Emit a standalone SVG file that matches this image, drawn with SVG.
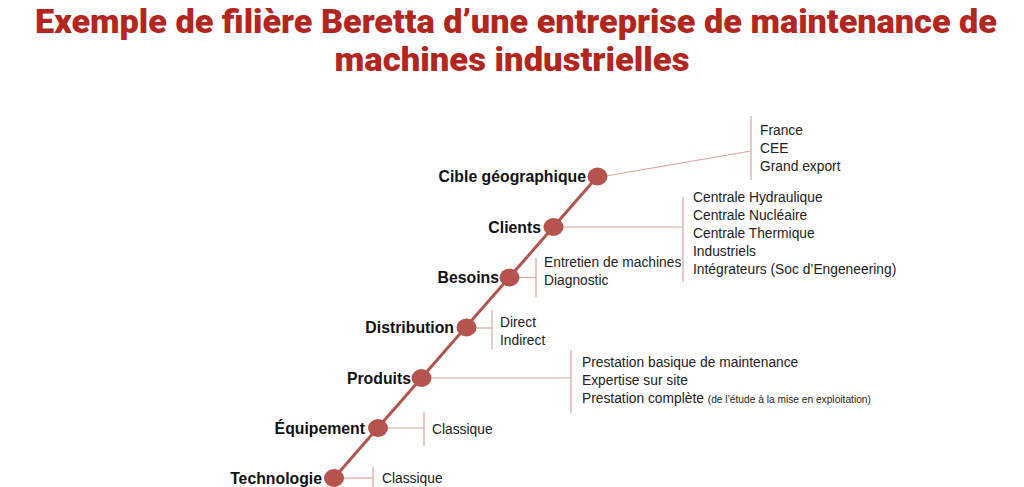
<svg xmlns="http://www.w3.org/2000/svg" width="1024" height="487" viewBox="0 0 1024 487">
<style>
.title{font-family:Roboto,"Liberation Sans",sans-serif;font-weight:900;font-size:34px;fill:#B3261E;text-anchor:middle}
.lbl{font-family:"Liberation Sans",Arial,sans-serif;font-weight:bold;font-size:15.8px;fill:#111;text-anchor:end}
.item{font-family:"Liberation Sans",Arial,sans-serif;font-size:13.8px;fill:#222}
.small{font-size:10.2px}
.dot{fill:#B5544E}
.con{stroke:#DBA3A1;stroke-width:1.2;fill:none}
.spine{stroke:#B5544E;stroke-width:3;fill:none}
</style>
<rect width="1024" height="487" fill="#fff"/>
<g id="title">
<text class="title" x="516" y="33" textLength="962" lengthAdjust="spacingAndGlyphs">Exemple de filière Beretta d’une entreprise de maintenance de</text>
<text class="title" x="512" y="71" textLength="355" lengthAdjust="spacingAndGlyphs">machines industrielles</text>
</g>
<g id="connectors">
<line class="spine" x1="334" y1="478" x2="597" y2="177"/>
<polyline class="con" points="606,176 751,151"/>
<line class="con" x1="751" y1="116" x2="751" y2="180"/>
<line class="con" x1="560" y1="227" x2="683" y2="227"/>
<line class="con" x1="683" y1="197" x2="683" y2="282"/>
<line class="con" x1="516" y1="277.5" x2="536" y2="277.5"/>
<line class="con" x1="536" y1="258" x2="536" y2="297"/>
<line class="con" x1="473" y1="328" x2="492" y2="328"/>
<line class="con" x1="492" y1="310" x2="492" y2="349"/>
<line class="con" x1="428" y1="378" x2="571" y2="378"/>
<line class="con" x1="571" y1="350" x2="571" y2="413"/>
<line class="con" x1="385" y1="428" x2="424" y2="428"/>
<line class="con" x1="424" y1="412" x2="424" y2="446"/>
<line class="con" x1="341" y1="478" x2="373" y2="478"/>
<line class="con" x1="373" y1="467" x2="373" y2="490"/>
</g>
<g id="n-cible">
<ellipse class="dot" cx="597.5" cy="176.5" rx="10" ry="9"/>
<text class="lbl" x="586" y="182">Cible géographique</text>
<text class="item" x="760" y="135">France</text>
<text class="item" x="760" y="153">CEE</text>
<text class="item" x="760" y="171">Grand export</text>
</g>
<g id="n-clients">
<ellipse class="dot" cx="553.5" cy="227" rx="10" ry="9"/>
<text class="lbl" x="541" y="233">Clients</text>
<text class="item" x="693" y="202">Centrale Hydraulique</text>
<text class="item" x="693" y="220">Centrale Nucléaire</text>
<text class="item" x="693" y="238">Centrale Thermique</text>
<text class="item" x="693" y="256">Industriels</text>
<text class="item" x="693" y="274">Intégrateurs (Soc d’Engeneering)</text>
</g>
<g id="n-besoins">
<ellipse class="dot" cx="509.5" cy="277.5" rx="10" ry="9"/>
<text class="lbl" x="499" y="283">Besoins</text>
<text class="item" x="544" y="267">Entretien de machines</text>
<text class="item" x="544" y="285">Diagnostic</text>
</g>
<g id="n-distribution">
<ellipse class="dot" cx="466.5" cy="327.5" rx="10" ry="9"/>
<text class="lbl" x="454" y="333">Distribution</text>
<text class="item" x="500" y="327">Direct</text>
<text class="item" x="500" y="345">Indirect</text>
</g>
<g id="n-produits">
<ellipse class="dot" cx="421.5" cy="378" rx="10" ry="9"/>
<text class="lbl" x="411" y="384">Produits</text>
<text class="item" x="582" y="367">Prestation basique de maintenance</text>
<text class="item" x="582" y="385">Expertise sur site</text>
<text class="item" x="582" y="403">Prestation complète <tspan class="small">(de l’étude à la mise en exploitation)</tspan></text>
</g>
<g id="n-equipement">
<ellipse class="dot" cx="378" cy="428" rx="10" ry="9"/>
<text class="lbl" x="365" y="434">Équipement</text>
<text class="item" x="432" y="434">Classique</text>
</g>
<g id="n-technologie">
<ellipse class="dot" cx="334" cy="478" rx="10" ry="9"/>
<text class="lbl" x="322" y="484">Technologie</text>
<text class="item" x="382" y="483">Classique</text>
</g>
</svg>
